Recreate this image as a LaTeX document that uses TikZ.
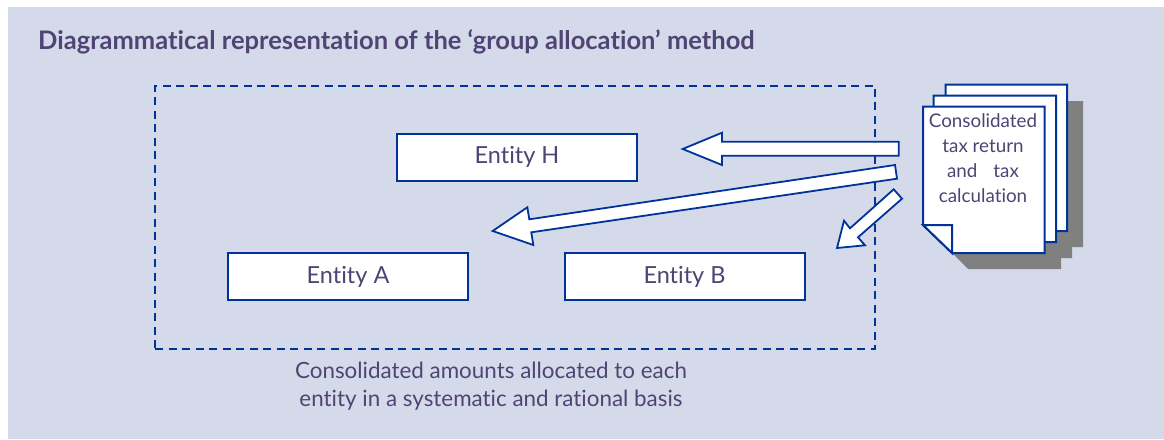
\documentclass[tikz,border=0pt]{standalone}
\usepackage{fontspec}
\setmainfont{Lato}[Ligatures=NoCommon]
\definecolor{panel}{HTML}{D4DAEA}
\definecolor{ink}{HTML}{4F4474}
\definecolor{edge}{HTML}{003399}
\definecolor{shadowgrey}{HTML}{808080}
\tikzset{
  entity/.style={draw=edge,fill=white,line width=2pt,minimum width=240pt,minimum height=47pt,inner sep=0pt,text=ink,font=\fontsize{23.5}{28}\selectfont},
  sheet/.style={draw=edge,fill=white,line width=2pt,line join=miter},
  bigarrow/.style={draw=edge,fill=white,line width=1.8pt,line join=miter},
  label/.style={text=ink,align=center,inner sep=0pt}
}
\begin{document}
\begin{tikzpicture}[x=1pt,y=-1pt]
\useasboundingbox (0,0) rectangle (1164,439);
\fill[white] (0,0) rectangle (1164,439);
\fill[panel] (8,7) rectangle (1164,439);
\node[label,anchor=base west,font=\fontsize{25.5}{30}\selectfont\bfseries] (title) at (38,49) {Diagrammatical representation of the ‘group allocation’ method};
\node[draw=edge,line width=2pt,dash pattern=on 8pt off 5.5pt,minimum width=720pt,minimum height=263pt,inner sep=0pt,anchor=north west] (scope) at (154,84.5) {};
\node[entity] (H) at (517,157) {Entity H};
\node[entity] (A) at (348,276.5) {Entity A};
\node[entity] (B) at (684.5,276.5) {Entity B};
% shadow
\fill[shadowgrey] (1067,101) -- (1083,101) -- (1083,247) -- (1072,247) -- (1072,258) -- (1061,258) -- (1061,269) -- (968,269) -- (952,253) -- cycle;
% pages
\draw[sheet] (945.7,95.7) -- (945.7,84.7) -- (1067,84.7) -- (1067,231) -- (1056,231) -- cycle;
\draw[sheet] (933.7,106.7) -- (933.7,95.7) -- (1056,95.7) -- (1056,242) -- (1044.7,242) -- cycle;
\draw[sheet] (923,106.7) -- (1044.7,106.7) -- (1044.7,253) -- (952,253) -- (923,225) -- cycle;
\draw[sheet] (923,225) -- (952,225) -- (952,253) -- cycle;
\node[label,font=\fontsize{18.8}{25.3}\selectfont,anchor=north] (doc) at (983,113) {Consolidated\\tax return\\and\hspace{0.6em} tax\\calculation};
% arrows
\draw[bigarrow] (898.7,141.7) -- (722,141.7) -- (722,132.7) -- (682.7,149) -- (722,165) -- (722,155.7) -- (898.7,155.7) -- cycle;
\draw[bigarrow] (895,165) -- (529.3,219.3) -- (527.3,207.3) -- (492.7,231) -- (533.3,245) -- (531.3,232.3) -- (897,178.7) -- cycle;
\draw[bigarrow] (893.7,189.3) -- (850,228.3) -- (844,220.7) -- (837,248) -- (865,245.3) -- (858,237.3) -- (902,198.7) -- cycle;
\node[label,font=\fontsize{22.4}{28}\selectfont,anchor=north] (note) at (491,362) {Consolidated amounts allocated to each\\entity in a systematic and rational basis};
\end{tikzpicture}
\end{document}
